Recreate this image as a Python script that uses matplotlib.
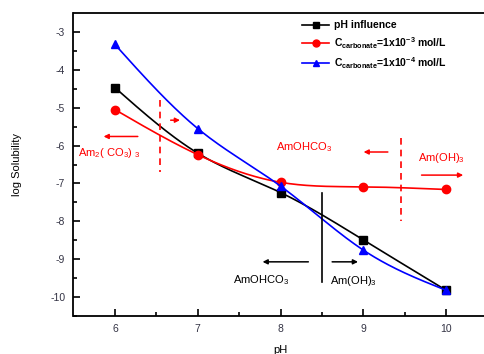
import matplotlib.pyplot as plt
import numpy as np

ph = [6, 7, 8, 9, 10]
ph_influence = [-4.47, -6.2, -7.24, -8.49, -9.82]
c_1e3 = [-5.05, -6.24, -6.97, -7.09, -7.16]
c_1e4 = [-3.33, -5.55, -7.07, -8.76, -9.82]


def spline(x, y, n=200):
    # natural cubic spline, for the smooth connecting lines (Origin style)
    x = np.asarray(x, float)
    y = np.asarray(y, float)
    m = len(x)
    h = np.diff(x)
    A = np.zeros((m, m))
    b = np.zeros(m)
    A[0, 0] = A[-1, -1] = 1
    for i in range(1, m - 1):
        A[i, i - 1] = h[i - 1]
        A[i, i] = 2 * (h[i - 1] + h[i])
        A[i, i + 1] = h[i]
        b[i] = 6 * ((y[i + 1] - y[i]) / h[i] - (y[i] - y[i - 1]) / h[i - 1])
    M = np.linalg.solve(A, b)
    xs = np.linspace(x[0], x[-1], n)
    idx = np.clip(np.searchsorted(x, xs) - 1, 0, m - 2)
    x0, x1 = x[idx], x[idx + 1]
    hh = x1 - x0
    t0, t1 = x1 - xs, xs - x0
    ys = (M[idx] * t0**3 + M[idx + 1] * t1**3) / (6 * hh) \
        + (y[idx] / hh - M[idx] * hh / 6) * t0 \
        + (y[idx + 1] / hh - M[idx + 1] * hh / 6) * t1
    return xs, ys


plt.rcParams.update({
    "font.family": ["Liberation Sans", "DejaVu Sans"],
    "font.size": 7,
    "axes.linewidth": 1.3,
    "axes.unicode_minus": False,
    "mathtext.fontset": "custom",
    "mathtext.rm": "Liberation Sans",
    "mathtext.it": "Liberation Sans:italic",
    "mathtext.bf": "Liberation Sans:bold",
})

fig = plt.figure(figsize=(4.85, 3.54), dpi=100)
ax = fig.add_axes([73.5 / 485, 38 / 354, 414 / 485, 303 / 354])

series = [
    (ph_influence, "k", "s", "pH influence"),
    (c_1e3, "#ff0000", "o", r"C$_{\mathbf{carbonate}}$=1x10$^{\mathbf{-3}}$ mol/L"),
    (c_1e4, "#0000ff", "^", r"C$_{\mathbf{carbonate}}$=1x10$^{\mathbf{-4}}$ mol/L"),
]
for ys, color, marker, label in series:
    xs_s, ys_s = spline(ph, ys)
    ax.plot(xs_s, ys_s, color=color, lw=1.2)
    ax.plot(ph, ys, ls="none", marker=marker, ms=6, color=color)
    ax.plot([], [], color=color, lw=1.2, marker=marker, ms=5, label=label)

red = "#ff0000"
arrow_kw = dict(arrowstyle="-|>", lw=1.1, mutation_scale=7)

# red phase boundaries
ax.plot([6.55, 6.55], [-4.8, -6.7], color=red, ls=(0, (4, 3)), lw=1.2)
ax.plot([9.45, 9.45], [-5.8, -8.0], color=red, ls=(0, (4, 3)), lw=1.2)
ax.annotate("", xy=(6.82, -5.33), xytext=(6.64, -5.33),
            arrowprops=dict(color=red, **arrow_kw))
ax.annotate("", xy=(5.83, -5.76), xytext=(6.31, -5.76),
            arrowprops=dict(color=red, **arrow_kw))
ax.annotate("", xy=(8.97, -6.17), xytext=(9.33, -6.17),
            arrowprops=dict(color=red, **arrow_kw))
ax.annotate("", xy=(10.24, -6.78), xytext=(9.67, -6.78),
            arrowprops=dict(color=red, **arrow_kw))
ax.text(5.56, -6.2, r"Am$_2$( CO$_3$) $_3$", color=red, fontsize=8, va="center")
ax.text(7.95, -6.05, r"AmOHCO$_3$", color=red, fontsize=8, va="center")
ax.text(9.66, -6.32, r"Am(OH)$_3$", color=red, fontsize=8, va="center")

# black phase boundary
ax.plot([8.5, 8.5], [-7.25, -9.6], color="k", lw=1.2)
ax.annotate("", xy=(7.75, -9.07), xytext=(8.37, -9.07),
            arrowprops=dict(color="k", **arrow_kw))
ax.annotate("", xy=(8.97, -9.07), xytext=(8.59, -9.07),
            arrowprops=dict(color="k", **arrow_kw))
ax.text(7.43, -9.55, r"AmOHCO$_3$", color="k", fontsize=8, va="center")
ax.text(8.6, -9.58, r"Am(OH)$_3$", color="k", fontsize=8, va="center")

ax.set_xlim(5.5, 10.5)
ax.set_ylim(-10.5, -2.5)
ax.set_xticks(ph)
ax.set_xticks(np.arange(6.5, 10.5, 1), minor=True)
ax.set_yticks(np.arange(-10, -2, 1))
ax.set_yticks(np.arange(-10.5, -2.5, 1), minor=True)
ax.tick_params(which="major", direction="in", length=5, width=1.2,
               labelcolor="#334", pad=6, labelsize=7.5)
ax.tick_params(which="minor", direction="in", length=3, width=1.2)
ax.set_xlabel("pH", fontsize=8, labelpad=8)
ax.set_ylabel("log Solubility", fontsize=8, labelpad=20)

ax.legend(loc="upper left", bbox_to_anchor=(0.535, 1.0), frameon=False,
          prop={"weight": "bold", "size": 7.5}, handlelength=2.6,
          handletextpad=0.4, labelspacing=0.45, borderaxespad=0.3)

fig.savefig("out.png", dpi=100)
